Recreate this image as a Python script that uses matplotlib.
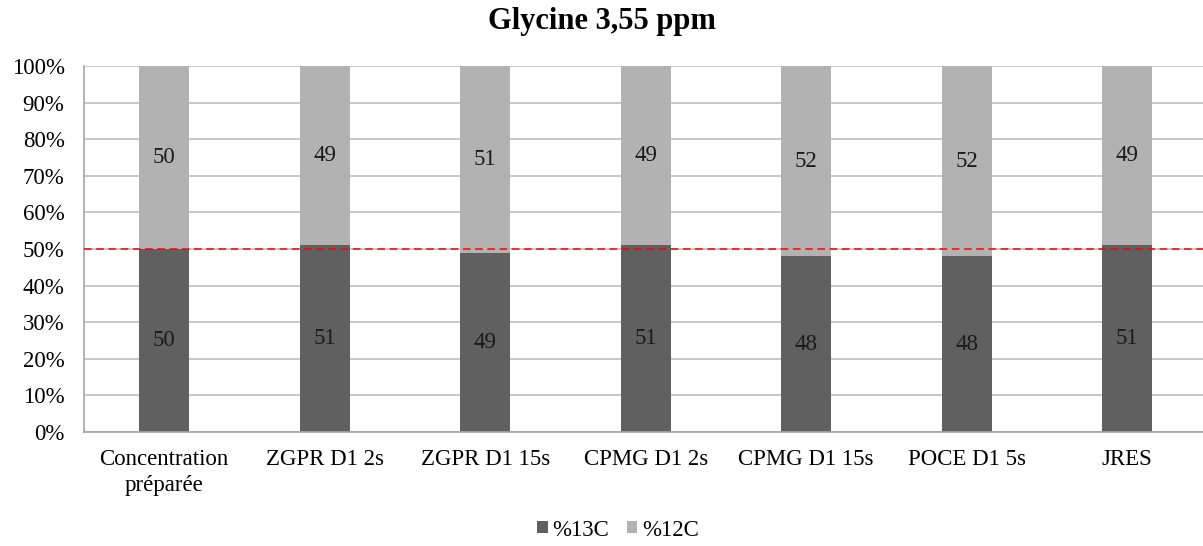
import matplotlib
matplotlib.use("Agg")
import matplotlib.pyplot as plt
import numpy as np

categories = ["Concentration\npréparée", "ZGPR D1 2s", "ZGPR D1 15s", "CPMG D1 2s",
              "CPMG D1 15s", "POCE D1 5s", "JRES"]
c13 = [50, 51, 49, 51, 48, 48, 51]
c12 = [50, 49, 51, 49, 52, 52, 49]
yticks = [0, 10, 20, 30, 40, 50, 60, 70, 80, 90, 100]

plt.rcParams['font.family'] = ['Liberation Serif', 'DejaVu Serif']

fs = 16.5
fig = plt.figure(figsize=(12.03, 5.46), dpi=100)
ax = fig.add_axes([84/1203, 1-432/546, (1207.5-84)/1203, (432-66)/546])

x = np.arange(len(categories))
w = 0.31
dark = "#606060"
light = "#b2b2b2"
b1 = ax.bar(x, c13, w, color=dark, label="%13C", zorder=2)
b2 = ax.bar(x, c12, w, bottom=c13, color=light, label="%12C", zorder=2)

for i in range(len(categories)):
    ax.text(x[i], c13[i]/2, str(c13[i]), ha="center", va="center", fontsize=fs, color="#1a1a1a", zorder=3)
    ax.text(x[i], c13[i] + c12[i]/2, str(c12[i]), ha="center", va="center", fontsize=fs, color="#1a1a1a", zorder=3)

ax.axhline(50, color="red", linestyle=(0, (5, 3)), linewidth=1.1, zorder=4)

ax.set_xlim(-0.5, len(categories) - 0.5)
ax.set_ylim(0, 100)
ax.set_yticks(yticks)
ax.set_yticklabels([f"{v}%" for v in yticks], fontsize=fs)
ax.set_xticks(x)
ax.set_xticklabels(categories, fontsize=fs, linespacing=1.35)
ax.tick_params(axis="y", length=0, pad=14)
ax.tick_params(axis="x", length=0, pad=12)
ax.yaxis.grid(True, color="#bdbdbd", linewidth=1.2, zorder=0)
ax.set_axisbelow(True)
for s in ["top", "right"]:
    ax.spines[s].set_visible(False)
for s in ["left", "bottom"]:
    ax.spines[s].set_color("#a6a6a6")
    ax.spines[s].set_linewidth(1.2)

fig.suptitle("Glycine 3,55 ppm", fontsize=22, fontweight="bold", y=1-22/546, va="center")

fig.legend(handles=[b1, b2], loc="center", bbox_to_anchor=(618/1203, 1-530/546), ncol=2, frameon=False,
           fontsize=fs, handlelength=0.45, handleheight=0.45, handletextpad=0.2, columnspacing=0.8)

fig.savefig("out.png", dpi=100)
